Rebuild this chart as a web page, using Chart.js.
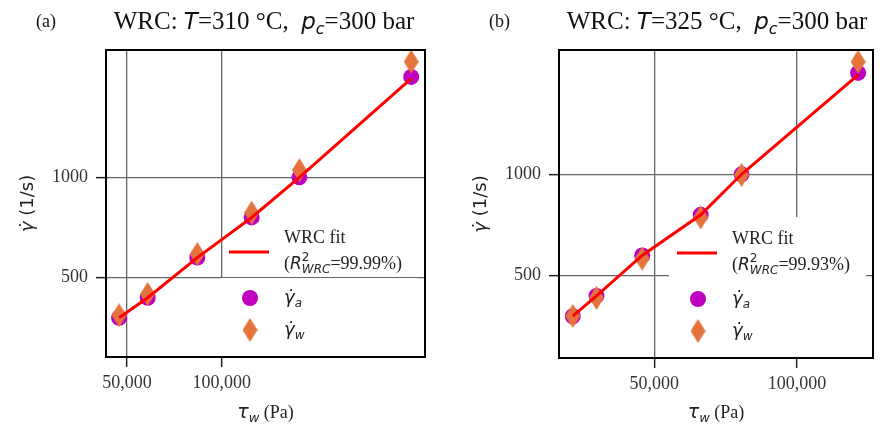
<!DOCTYPE html>
<html>
<head>
<meta charset="utf-8">
<title>WRC fit</title>
<script src="https://cdn.jsdelivr.net/npm/chart.js@4.4.1/dist/chart.umd.min.js"></script>
<style>
    body { margin: 0; background: #fff; }
    #wrap { position: relative; width: 886px; height: 426px; }
    canvas { position: absolute; top: 0; }
    #chartA { left: 0; }
    #chartB { left: 443px; }
</style>
</head>
<body>
<div id="wrap">
    <canvas id="chartA" width="443" height="426"></canvas>
    <canvas id="chartB" width="443" height="426"></canvas>
</div>
<script>
// (a) T = 310 °C
var tauA = [45800, 60900, 87100, 115800, 141000, 200000];
var gammaAppA = [300, 400, 600, 800, 1000, 1500];
var gammaWallA = [313, 419, 618, 824, 1036, 1576];
var fitA = [300, 400, 600, 800, 1000, 1492];

// (b) T = 325 °C
var tauB = [21500, 29800, 45800, 66300, 80600, 121400];
var gammaAppB = [300, 400, 600, 800, 1000, 1500];
var gammaWallB = [301, 391, 584, 787, 997, 1555];
var fitB = [300, 400, 600, 800, 1000, 1490];

var xTicks = [50000, 100000];
var yTicks = [500, 1000];

var SERIF = '"Liberation Serif", "Times New Roman", serif';
var SANS = '"DejaVu Sans", sans-serif';
var MAGENTA = '#bf00bf';
var ORANGE = '#e5743c';

function f(size, family, style) {
    return (style ? style + ' ' : '') + size + 'px ' + family;
}

// tall diamond marker, matplotlib 'd' look
function makeDiamond(w, h) {
    var c = document.createElement('canvas');
    c.width = w; c.height = h;
    var g = c.getContext('2d');
    g.fillStyle = ORANGE;
    g.beginPath();
    g.moveTo(w / 2, 0);
    g.lineTo(w, h / 2);
    g.lineTo(w / 2, h);
    g.lineTo(0, h / 2);
    g.closePath();
    g.fill();
    return c;
}
var diamond = makeDiamond(15, 24);

// runs: [text, font, dy, noAdvance]
function runsWidth(ctx, runs) {
    var w = 0;
    runs.forEach(r => {
        ctx.font = r[1];
        if (!r[3]) w += ctx.measureText(r[0]).width;
    });
    return w;
}
function drawRuns(ctx, runs, x, y, align) {
    var w = runsWidth(ctx, runs);
    var cx = align == 'center' ? x - w / 2 : x;
    ctx.textAlign = 'left';
    ctx.textBaseline = 'alphabetic';
    runs.forEach(r => {
        ctx.font = r[1];
        ctx.fillText(r[0], cx, y + (r[2] || 0));
        if (!r[3]) cx += ctx.measureText(r[0]).width;
    });
}

var panelText = {
    id: 'panelText',
    beforeDatasetsDraw(chart, args, o) {
        var a = chart.chartArea, ctx = chart.ctx;
        // legend background hides the grid
        ctx.save();
        ctx.fillStyle = '#fff';
        ctx.fillRect(a.right - 204, o.boxTop, 197, a.bottom - o.boxTop - 1);
        ctx.restore();
    },
    afterDraw(chart, args, o) {
        var a = chart.chartArea, ctx = chart.ctx;
        ctx.save();
        ctx.strokeStyle = '#000';
        ctx.lineWidth = 2;
        ctx.strokeRect(a.left, a.top, a.right - a.left, a.bottom - a.top);

        ctx.fillStyle = '#111';
        drawRuns(ctx, [[o.tag, f(18, SERIF)]], a.left - 70, 27, 'left');
        drawRuns(ctx, [
            ['WRC: ', f(25, SERIF)],
            ['T', f(23, SANS, 'italic')],
            ['=' + o.temp + ' °C,  ', f(25, SERIF)],
            ['p', f(23, SANS, 'italic')],
            ['c', f(16, SANS, 'italic'), 5],
            ['=300 bar', f(25, SERIF)]
        ], a.left + 158, 29, 'center');

        // axis titles
        ctx.fillStyle = '#222';
        drawRuns(ctx, [
            ['τ', f(19, SANS, 'italic')],
            ['w', f(13, SANS, 'italic'), 4],
            [' (Pa)', f(18, SERIF)]
        ], (a.left + a.right) / 2, 418, 'center');
        ctx.save();
        ctx.translate(a.left - 80, (a.top + a.bottom) / 2);
        ctx.rotate(-Math.PI / 2);
        drawRuns(ctx, [
            ['γ̇', f(18, SANS, 'italic')],
            [' (1/s)', f(18, SANS)]
        ], 0, 7, 'center');
        ctx.restore();

        // legend
        var lx = a.right - 196, tx = a.right - 141, mx = a.right - 175;
        ctx.strokeStyle = '#ff0000';
        ctx.lineWidth = 3;
        ctx.beginPath();
        ctx.moveTo(lx, a.bottom - 105);
        ctx.lineTo(lx + 40, a.bottom - 105);
        ctx.stroke();
        ctx.fillStyle = MAGENTA;
        ctx.beginPath();
        ctx.arc(mx, a.bottom - 59, 8, 0, Math.PI * 2);
        ctx.fill();
        ctx.drawImage(diamond, mx - 7.5, a.bottom - 27 - 12);

        ctx.fillStyle = '#222';
        drawRuns(ctx, [['WRC fit', f(18, SERIF)]], tx, a.bottom - 114, 'left');
        drawRuns(ctx, [
            ['(', f(18, SERIF)],
            ['R', f(17, SANS, 'italic')],
            ['2', f(12, SANS), -8, true],
            ['WRC', f(12, SANS, 'italic'), 4],
            ['=' + o.r2 + '%)', f(18, SERIF)]
        ], tx, a.bottom - 88, 'left');
        drawRuns(ctx, [
            ['γ̇', f(18, SANS, 'italic')],
            ['a', f(12, SANS, 'italic'), 4]
        ], tx, a.bottom - 54, 'left');
        drawRuns(ctx, [
            ['γ̇', f(18, SANS, 'italic')],
            ['w', f(12, SANS, 'italic'), 4]
        ], tx, a.bottom - 22, 'left');
        ctx.restore();
    }
};

function toPoints(xs, ys) {
    return xs.map((x, i) => ({ x: x, y: ys[i] }));
}

function makeChart(id, tau, gApp, gWall, fit, o) {
    var ctx = document.getElementById(id).getContext('2d');
    return new Chart(ctx, {
        type: 'scatter',
        data: {
            datasets: [{
                label: 'WRC fit',
                type: 'line',
                data: toPoints(tau, fit),
                borderColor: '#ff0000',
                borderWidth: 3,
                pointRadius: 0,
                tension: 0,
                fill: false,
                order: 0
            }, {
                label: 'gamma_a',
                data: toPoints(tau, gApp),
                pointStyle: 'circle',
                pointRadius: 8,
                backgroundColor: MAGENTA,
                borderWidth: 0,
                order: 2
            }, {
                label: 'gamma_w',
                data: toPoints(tau, gWall),
                pointStyle: diamond,
                pointRadius: 12,
                order: 1
            }]
        },
        options: {
            responsive: false,
            animation: false,
            events: [],
            layout: { padding: { left: 0, top: 50, right: o.padRight, bottom: 0 } },
            plugins: {
                legend: { display: false },
                tooltip: { enabled: false },
                panelText: o
            },
            scales: {
                x: {
                    type: 'linear',
                    min: o.xMin,
                    max: o.xMax,
                    afterBuildTicks: s => { s.ticks = xTicks.map(v => ({ value: v })); },
                    afterFit: s => { s.height = o.xHeight; },
                    ticks: {
                        callback: v => v.toLocaleString('en-US'),
                        font: { family: SERIF, size: 18 },
                        color: '#333',
                        padding: 5,
                        maxRotation: 0,
                        autoSkip: false
                    },
                    grid: { color: '#666', lineWidth: 1.3, tickLength: 10, tickColor: '#222', tickWidth: 1.5 },
                    border: { color: '#000', width: 2 }
                },
                y: {
                    type: 'linear',
                    min: o.yMin,
                    max: o.yMax,
                    afterBuildTicks: s => { s.ticks = yTicks.map(v => ({ value: v })); },
                    afterFit: s => { s.width = o.yWidth; },
                    ticks: {
                        callback: v => String(v),
                        font: { family: SERIF, size: 18 },
                        color: '#333',
                        padding: 8
                    },
                    grid: { color: '#666', lineWidth: 1.3, tickLength: 10, tickColor: '#222', tickWidth: 1.5 },
                    border: { color: '#000', width: 2 }
                }
            }
        },
        plugins: [panelText]
    });
}

window.addEventListener('load', () => {
    makeChart('chartA', tauA, gammaAppA, gammaWallA, fitA, {
        tag: '(a)', temp: '310', r2: '99.99',
        xMin: 38900, xMax: 207300, yMin: 105, yMax: 1634,
        yWidth: 106, xHeight: 69, padRight: 18, boxTop: 278
    });
    makeChart('chartB', tauB, gammaAppB, gammaWallB, fitB, {
        tag: '(b)', temp: '325', r2: '99.93',
        xMin: 16680, xMax: 126610, yMin: 94, yMax: 1613,
        yWidth: 116, xHeight: 68, padRight: 6, boxTop: 217
    });
});
</script>
</body>
</html>
